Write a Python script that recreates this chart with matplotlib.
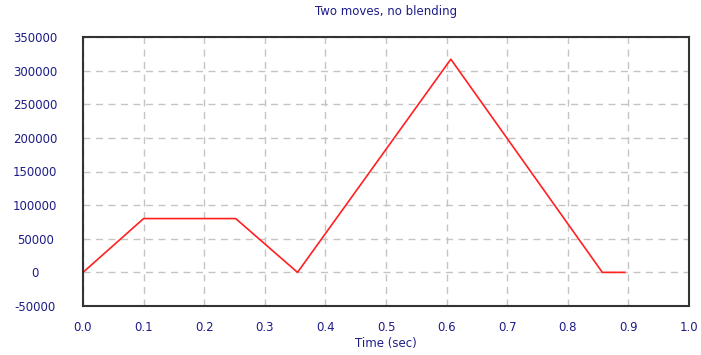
import matplotlib
matplotlib.use("Agg")
import matplotlib.pyplot as plt

# Data
time_s = [0.0, 0.1, 0.252, 0.354, 0.607, 0.857, 0.894]
position = [0, 80000, 80000, 0, 317000, 0, 0]

x_ticks = [0.0, 0.1, 0.2, 0.3, 0.4, 0.5, 0.6, 0.7, 0.8, 0.9, 1.0]
y_ticks = [-50000, 0, 50000, 100000, 150000, 200000, 250000, 300000, 350000]

title = "Two moves, no blending"
xlabel = "Time (sec)"

text_color = "#1c1c88"

fig = plt.figure(figsize=(7.01, 3.55), dpi=100)
ax = fig.add_axes([83 / 701, 49 / 355, 606 / 701, 269 / 355])

ax.plot(time_s, position, color="#ff2020", linewidth=1.2)

ax.set_xlim(0, 1.0)
ax.set_ylim(-50000, 350000)
ax.set_xticks(x_ticks)
ax.set_yticks(y_ticks)
ax.set_xticklabels([f"{v:.1f}" for v in x_ticks])
ax.set_yticklabels([str(v) for v in y_ticks])
ax.tick_params(axis="both", length=0, labelsize=8.5, labelcolor=text_color)
ax.tick_params(axis="y", pad=34.5)
ax.tick_params(axis="x", pad=11)
for lbl in ax.get_yticklabels():
    lbl.set_horizontalalignment("center")

ax.grid(True, color="#c4c4c4", linestyle=(0, (5, 4)), linewidth=1.0)
ax.set_axisbelow(True)

for side, sp in ax.spines.items():
    sp.set_color("#333333")
    sp.set_linewidth(1.5)

fig.text(0.5 * (83 + 689) / 701, 1 - 12 / 355, title, ha="center", va="center",
         fontsize=8.5, color=text_color)
fig.text(0.5 * (83 + 689) / 701, 1 - 343 / 355, xlabel, ha="center", va="center",
         fontsize=8.5, color=text_color)

fig.savefig("out.png", dpi=100)
